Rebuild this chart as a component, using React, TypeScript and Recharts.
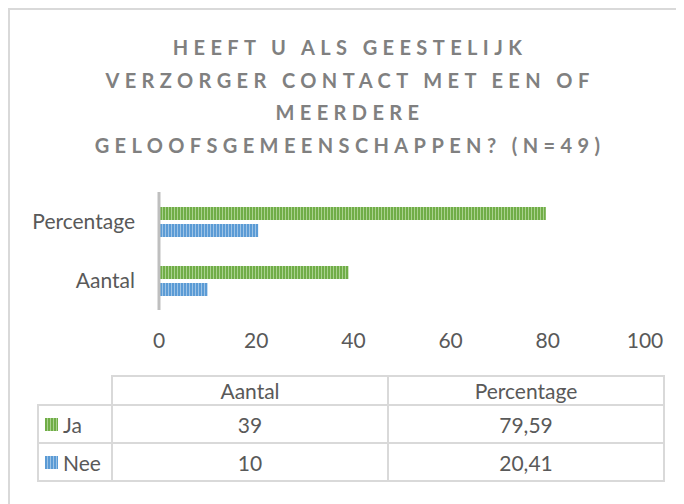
import React from "react";
import { BarChart, Bar, XAxis, YAxis } from "recharts";

const titleLines = [
  "HEEFT U ALS GEESTELIJK",
  "VERZORGER CONTACT MET EEN OF",
  "MEERDERE",
  "GELOOFSGEMEENSCHAPPEN? (N=49)",
];
const categories = ["Percentage", "Aantal"];
const jaValues = [79.59, 39];
const neeValues = [20.41, 10];
const xTicks = [0, 20, 40, 60, 80, 100];
const tableColumns = ["Aantal", "Percentage"];
const seriesNames = ["Ja", "Nee"];

const data = categories.map((c, i) => ({ name: c, Ja: jaValues[i], Nee: neeValues[i] }));

const FONT = "Lato, 'Open Sans', sans-serif";
const FS = 21;
const TXT = "#595959";
const GRID = "#d9d9d9";

const fmt = (v: number) => (Number.isInteger(v) ? String(v) : v.toFixed(2).replace(".", ","));

const Key = ({ id }: { id: string }) => (
  <svg width={13} height={13} style={{ display: "block" }}>
    <rect x={0} y={0} width={13} height={13} fill={`url(#${id})`} />
  </svg>
);

export default function App() {
  const cellBase: React.CSSProperties = {
    position: "absolute",
    boxSizing: "border-box",
    border: `2px solid ${GRID}`,
    display: "flex",
    alignItems: "center",
    justifyContent: "center",
    fontFamily: FONT,
    fontSize: FS,
    color: TXT,
  };
  const cell = (x1: number, y1: number, x2: number, y2: number) => ({
    left: x1 - 11,
    top: y1 - 11,
    width: x2 - x1 + 2,
    height: y2 - y1 + 2,
  });
  const rowsY = [
    [405, 443],
    [443, 481],
  ];
  const colsX = [
    [112, 388],
    [388, 664],
  ];
  const valueFor = (series: number, col: string) => {
    const idx = categories.indexOf(col);
    return series === 0 ? jaValues[idx] : neeValues[idx];
  };
  return (
    <div
      style={{
        position: "relative",
        width: 674,
        height: 494,
        borderLeft: `2px solid ${GRID}`,
        borderTop: `2px solid ${GRID}`,
        overflow: "hidden",
        background: "#fff",
      }}
    >
      <svg width={0} height={0} style={{ position: "absolute" }}>
        <defs>
          <pattern id="stripeGreen" patternUnits="userSpaceOnUse" width={3} height={4}>
            <rect x={0} y={0} width={3} height={4} fill="#a9d18e" />
            <rect x={0} y={0} width={2} height={4} fill="#70ad47" />
          </pattern>
          <pattern id="stripeBlue" patternUnits="userSpaceOnUse" width={3} height={4}>
            <rect x={0} y={0} width={3} height={4} fill="#9dc3e6" />
            <rect x={0} y={0} width={2} height={4} fill="#5b9bd5" />
          </pattern>
        </defs>
      </svg>
      <div
        style={{
          position: "absolute",
          left: 3,
          top: 21,
          width: 674,
          textAlign: "center",
          fontFamily: FONT,
          fontWeight: 700,
          fontSize: 20,
          letterSpacing: 5.4,
          lineHeight: "32.5px",
          color: "#808080",
        }}
      >
        {titleLines.map((l) => (
          <div key={l}>{l}</div>
        ))}
      </div>
      <div style={{ position: "absolute", left: 0, top: 160 }}>
        <BarChart
          width={660}
          height={200}
          data={data}
          layout="vertical"
          margin={{ top: 22, right: 25, bottom: 20, left: 0 }}
          barSize={13}
          barGap={4}
        >
          <XAxis
            type="number"
            domain={[0, 100]}
            ticks={xTicks}
            axisLine={false}
            tickLine={false}
            tickMargin={17}
            height={40}
            tick={{ fill: TXT, fontSize: FS, fontFamily: FONT }}
          />
          <YAxis
            type="category"
            dataKey="name"
            width={149}
            axisLine={{ stroke: "#bfbfbf", strokeWidth: 3 }}
            tickLine={false}
            tickMargin={18}
            tick={{ fill: TXT, fontSize: FS, fontFamily: FONT }}
          />
          <Bar dataKey="Ja" fill="url(#stripeGreen)" isAnimationActive={false} />
          <Bar dataKey="Nee" fill="url(#stripeBlue)" isAnimationActive={false} />
        </BarChart>
      </div>
      <div style={{ ...cellBase, ...cell(112, 376, 388, 405) }}>{tableColumns[0]}</div>
      <div style={{ ...cellBase, ...cell(388, 376, 664, 405) }}>{tableColumns[1]}</div>
      {seriesNames.map((s, r) => (
        <React.Fragment key={s}>
          <div
            style={{
              ...cellBase,
              ...cell(38, rowsY[r][0], 112, rowsY[r][1]),
              justifyContent: "flex-start",
              paddingLeft: 6,
              gap: 5,
            }}
          >
            <Key id={r === 0 ? "stripeGreen" : "stripeBlue"} />
            <span>{s}</span>
          </div>
          {tableColumns.map((col, c) => (
            <div
              key={col}
              style={{ ...cellBase, ...cell(colsX[c][0], rowsY[r][0], colsX[c][1], rowsY[r][1]) }}
            >
              {fmt(valueFor(r, col))}
            </div>
          ))}
        </React.Fragment>
      ))}
    </div>
  );
}
